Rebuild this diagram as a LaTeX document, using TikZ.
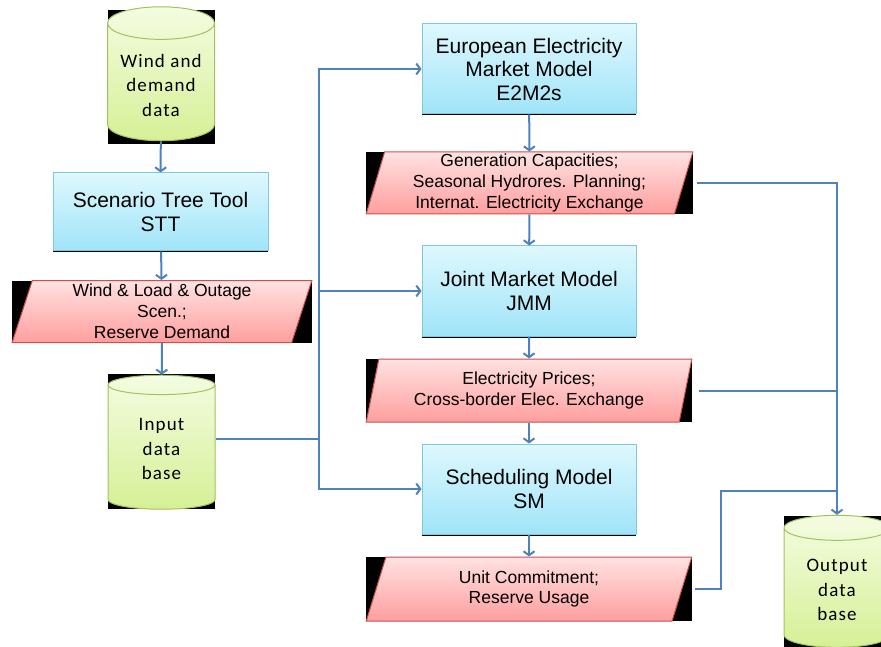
\documentclass[tikz,border=0pt]{standalone}
\usepackage{fontspec}
\setmainfont{Liberation Sans}
\newfontfamily\cylfont[LetterSpace=6]{Carlito}
\usetikzlibrary{shapes.geometric, arrows.meta, shadows}
\definecolor{linkblue}{RGB}{79,129,189}
\definecolor{modeltop}{RGB}{222,248,254}
\definecolor{modelbot}{RGB}{160,228,248}
\definecolor{modeledge}{RGB}{128,200,225}
\definecolor{resulttop}{RGB}{255,226,226}
\definecolor{resultbot}{RGB}{255,158,158}
\definecolor{resultedge}{RGB}{200,80,77}
\definecolor{storetop}{RGB}{244,252,225}
\definecolor{storebot}{RGB}{214,240,150}
\definecolor{storeedge}{RGB}{160,195,95}
\tikzset{
  model/.style={
    rectangle,
    minimum width=214pt,
    minimum height=90pt,
    align=center,
    draw=modeledge,
    line width=1pt,
    top color=modeltop,
    bottom color=modelbot,
    font=\fontsize{21}{23.5}\selectfont,
    drop shadow={shadow xshift=0pt, shadow yshift=-1.5pt, fill=black, opacity=1}
  },
  result/.style={
    trapezium,
    trapezium left angle=76,
    trapezium right angle=104,
    trapezium stretches=true,
    minimum width=326pt,
    minimum height=62pt,
    inner sep=1pt,
    align=center,
    draw=resultedge,
    line width=1pt,
    top color=resulttop,
    bottom color=resultbot,
    font=\fontsize{17.5}{20.8}\selectfont
  },
  store/.style={
    cylinder,
    shape border rotate=90,
    aspect=0.37,
    minimum width=107pt,
    minimum height=134pt,
    align=center,
    draw=storeedge,
    line width=1pt,
    top color=storetop,
    bottom color=storebot,
    font=\cylfont\fontsize{19}{24.5}\selectfont
  },
  backdrop/.style={rectangle, fill=black, inner sep=0pt, outer sep=0pt},
  link/.style={linkblue, line width=2pt},
  arrow/.style={link, -{Straight Barb[length=4pt,width=11pt]}}
}
\begin{document}
\begin{tikzpicture}[x=1pt, y=-1pt]
    \useasboundingbox (0,0) rectangle (881,647);
    % black backdrops behind the data shapes
    \node (windbg) [backdrop, minimum width=107pt, minimum height=134pt] at (161,77) {};
    \node (scenbg) [backdrop, minimum width=300pt, minimum height=62pt] at (162,311.5) {};
    \node (inputbg) [backdrop, minimum width=107pt, minimum height=135pt] at (161.5,441) {};
    \node (gencapbg) [backdrop, minimum width=327pt, minimum height=62pt] at (529.5,183) {};
    \node (pricesbg) [backdrop, minimum width=326pt, minimum height=63pt] at (529,390.5) {};
    \node (commitbg) [backdrop, minimum width=326pt, minimum height=64pt] at (529,589) {};
    \node (outputbg) [backdrop, minimum width=106pt, minimum height=132pt] at (837,582) {};
    % left column
    \node (wind) [store] at (161,85) {Wind and\\demand\\data};
    \node (stt) [model, minimum width=215pt, minimum height=78pt] at (160.5,212) {Scenario Tree Tool\\STT};
    \node (scen) [result, minimum width=300pt] at (162,311.5) {Wind \& Load \& Outage\\Scen.;\\Reserve Demand};
    \node (input) [store] at (161.5,449) {Input\\data\\base};
    % right column
    \node (e2m2s) [model] at (529,69) {European Electricity\\Market Model\\E2M2s};
    \node (gencap) [result, minimum width=327pt] at (529.5,183) {Generation Capacities;\\Seasonal Hydrores. Planning;\\Internat. Electricity Exchange};
    \node (jmm) [model] at (529,291) {Joint Market Model\\JMM};
    \node (prices) [result, minimum height=63pt] at (529,390.5) {Electricity Prices;\\Cross-border Elec. Exchange};
    \node (sm) [model] at (529,489) {Scheduling Model\\SM};
    \node (commit) [result, minimum height=64pt] at (529,589) {Unit Commitment;\\Reserve Usage};
    \node (output) [store, minimum width=106pt, minimum height=132pt] at (837,590) {Output\\data\\base};
    \coordinate (trunk) at (319,439);
    \coordinate (bend) at (721,491);
    % connectors
    \draw[arrow] (wind) -- (stt);
    \draw[arrow] (stt) -- (scen);
    \draw[arrow] (scen) -- (input);
    \draw[link] (input.east |- trunk) -- (trunk);
    \draw[arrow] (trunk) |- (e2m2s.west);
    \draw[arrow] (trunk) |- (jmm.west);
    \draw[arrow] (trunk) |- (sm.west);
    \draw[arrow] (e2m2s) -- (gencap);
    \draw[arrow] (gencap) -- (jmm);
    \draw[arrow] (jmm) -- (prices);
    \draw[arrow] (prices) -- (sm);
    \draw[arrow] (sm) -- (commit);
    \draw[arrow] ([xshift=13pt]gencap.east) -| (output.north);
    \draw[link] ([xshift=13pt]prices.east) -- (prices.east -| output.north);
    \draw[link] ([xshift=13pt]commit.east) -| (bend) -- (bend -| output.north);
\end{tikzpicture}
\end{document}
